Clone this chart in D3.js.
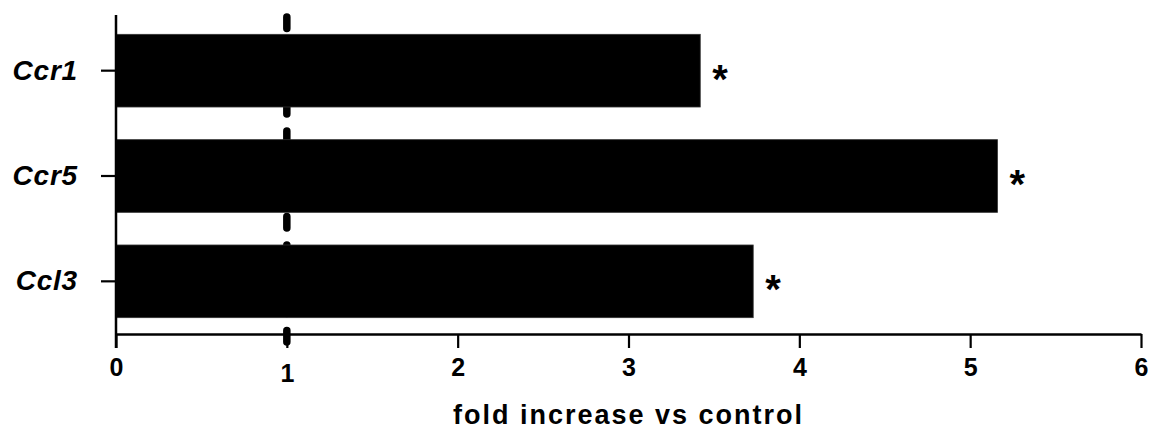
<!DOCTYPE html>
<html>
<head>
<meta charset="utf-8">
<script src="https://cdn.jsdelivr.net/npm/d3@7/dist/d3.min.js"></script>
<style>
  html, body { margin: 0; padding: 0; background: #fff; }
  svg { display: block; }
</style>
</head>
<body>
<svg id="chart" width="1151" height="430"></svg>
<script>
const genes = ["Ccr1", "Ccr5", "Ccl3"];
const foldValues = [3.42, 5.16, 3.73];
const significance = ["*", "*", "*"];
const xTicks = [0, 1, 2, 3, 4, 5, 6];
const xTitle = "fold increase vs control";
const controlLevel = 1;

const svg = d3.select("#chart");
const font = "'Liberation Sans', Arial, Helvetica, sans-serif";

const x = d3.scaleLinear().domain([0, 6]).range([116, 1141]);
const y = d3.scaleBand().domain(genes).range([18, 334])
  .paddingInner(0.31).paddingOuter(0.155);

// control reference dashed line (behind bars)
svg.append("line")
  .attr("x1", x(controlLevel)).attr("x2", x(controlLevel))
  .attr("y1", 17).attr("y2", 343)
  .attr("stroke", "#000")
  .attr("stroke-width", 7.5)
  .attr("stroke-linecap", "round")
  .attr("stroke-dasharray", "11.5,17");

// bars
svg.append("g").selectAll("rect")
  .data(genes)
  .join("rect")
  .attr("x", x(0))
  .attr("y", d => y(d))
  .attr("width", (d, i) => x(foldValues[i]) - x(0))
  .attr("height", y.bandwidth())
  .attr("fill", "#000")
  .attr("stroke", "#333")
  .attr("stroke-width", 0.8);

// significance asterisks
svg.append("g").selectAll("text")
  .data(genes)
  .join("text")
  .attr("x", (d, i) => x(foldValues[i]) + 12)
  .attr("y", d => y(d) + y.bandwidth() / 2 + 22)
  .attr("font-family", font)
  .attr("font-weight", "bold")
  .attr("font-size", 40)
  .attr("fill", "#000")
  .text((d, i) => significance[i]);

// x axis
const xAxis = svg.append("g")
  .attr("transform", `translate(0,${y.range()[1]})`)
  .call(d3.axisBottom(x).tickValues(xTicks).tickFormat(d3.format("d")).tickSize(14).tickSizeOuter(0).tickPadding(10));
xAxis.select(".domain").attr("stroke-width", 2.5);
xAxis.selectAll(".tick line").attr("stroke-width", 2.2);
xAxis.selectAll(".tick text")
  .attr("font-family", font)
  .attr("font-weight", "bold")
  .attr("font-size", 25)
  .attr("fill", "#000")
  .attr("dy", d => d === controlLevel ? "0.95em" : "0.71em");

// y axis
const yAxis = svg.append("g")
  .attr("transform", `translate(${x(0)},0)`)
  .call(d3.axisLeft(y).tickSize(15).tickSizeOuter(0).tickPadding(23));
yAxis.select(".domain").remove();
yAxis.append("line")
  .attr("x1", 0).attr("x2", 0)
  .attr("y1", 15).attr("y2", y.range()[1] + 14)
  .attr("stroke", "#000").attr("stroke-width", 2.5);
yAxis.selectAll(".tick line").attr("stroke-width", 2.2);
yAxis.selectAll(".tick text")
  .attr("font-family", font)
  .attr("font-weight", "bold")
  .attr("font-style", "italic")
  .attr("font-size", 28)
  .attr("letter-spacing", 0.8)
  .attr("fill", "#000");

// x axis title
svg.append("text")
  .attr("x", x(3))
  .attr("y", 424)
  .attr("text-anchor", "middle")
  .attr("font-family", font)
  .attr("font-weight", "bold")
  .attr("font-size", 27)
  .attr("letter-spacing", 2)
  .attr("fill", "#000")
  .text(xTitle);
</script>
</body>
</html>
